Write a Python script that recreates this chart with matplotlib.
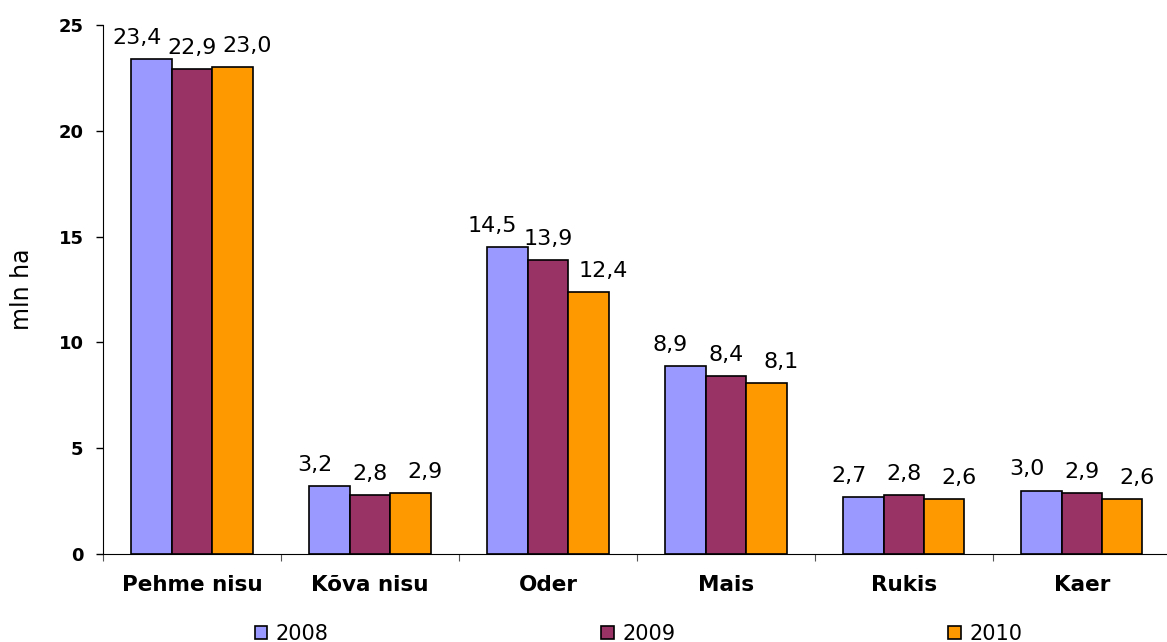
import numpy as np
from matplotlib import pyplot as plt

crops = ['Pehme nisu', 'Kõva nisu', 'Oder', 'Mais', 'Rukis', 'Kaer']
years = ['2008', '2009', '2010']
area_2008 = [23.4, 3.2, 14.5, 8.9, 2.7, 3.0]
area_2009 = [22.9, 2.8, 13.9, 8.4, 2.8, 2.9]
area_2010 = [23.0, 2.9, 12.4, 8.1, 2.6, 2.6]

colors = ['#9999FF', '#993366', '#FF9900']
label_shift = [-15, 0, 15]  # px, as in the original labels

plt.rcParams['font.family'] = 'DejaVu Sans'

fig = plt.figure(figsize=(11.67, 6.42), dpi=100)
ax = fig.add_axes([0.0883, 0.137, 0.915, 0.824])

x = np.arange(len(crops))
width = 0.227
series = [area_2008, area_2009, area_2010]
for i, (vals, col, year) in enumerate(zip(series, colors, years)):
    pos = x + (i - 1) * width
    ax.bar(pos, vals, width, color=col, edgecolor='black', linewidth=1.2, label=year)
    for px, v in zip(pos, vals):
        ax.annotate(f'{v:.1f}'.replace('.', ','), (px, v),
                    xytext=(label_shift[i] * 0.72, 8), textcoords='offset points',
                    ha='center', va='bottom', fontsize=16)

ax.set_xlim(-0.5, len(crops) - 0.5)
ax.set_ylim(0, 25)
ax.set_yticks([0, 5, 10, 15, 20, 25])
ax.tick_params(axis='y', direction='out', length=5, width=1, pad=9, labelsize=13)
for t in ax.get_yticklabels():
    t.set_fontweight('bold')

# category boundaries as major ticks, names as minor ticks
ax.set_xticks(np.arange(len(crops) + 1) - 0.5)
ax.set_xticklabels([])
ax.set_xticks(x, minor=True)
ax.set_xticklabels(crops, minor=True, fontsize=15.5, fontweight='bold')
ax.tick_params(axis='x', which='major', direction='out', length=5, color='#555555')
ax.tick_params(axis='x', which='minor', length=0, pad=15)

ax.spines['top'].set_visible(False)
ax.spines['right'].set_visible(False)
ax.set_ylabel('mln ha', fontsize=17)
ax.yaxis.set_label_coords(-0.065, 0.5)

fig.legend(loc='center', bbox_to_anchor=(0.547, 0.013), ncol=3, frameon=False,
           fontsize=15, handlelength=0.6, handleheight=0.6, handletextpad=0.4,
           columnspacing=13.1)

plt.savefig('out.png')
